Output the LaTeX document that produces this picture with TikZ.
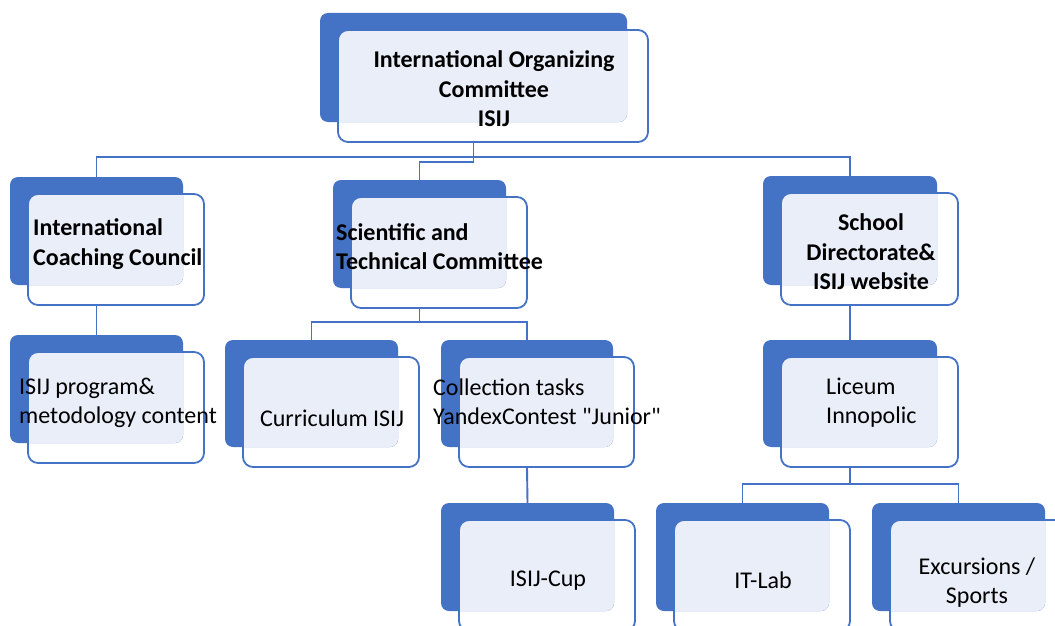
\documentclass[tikz,border=0pt]{standalone}
\usepackage{fontspec}
\setmainfont{Carlito}[Ligatures=TeXOff]
\definecolor{bl}{HTML}{4472C4}
\definecolor{lt}{HTML}{E9EEF8}
\tikzset{
  conn/.style={draw=bl, line width=1.9pt},
  backbox/.style={fill=bl, draw=none, inner sep=0pt, outer sep=0pt, rounded corners=8pt},
  frontbox/.style={inner sep=0pt, outer sep=0pt},
  frontline/.style={draw=bl, line width=1.8pt, rounded corners=10pt},
  lbl/.style={inner sep=0pt, text=black, font=\fontsize{24}{29}\selectfont},
  blbl/.style={inner sep=0pt, text=black, font=\fontsize{24}{29.5}\selectfont\bfseries},
}
\newcommand\orgbox[5]{%
  \node[backbox, minimum width={(#4-#2)*1pt}, minimum height={(#5-#3)*1pt}] (#1B) at ({(#2+#4)/2},{(#3+#5)/2}) {};
  \node[frontbox, minimum width={(#4-#2+3)*1pt}, minimum height={(#5-#3+3)*1pt}] (#1) at ({(#2+#4)/2+19.5},{(#3+#5)/2+18.5}) {};
  \begin{scope}
    \clip[rounded corners=8pt] (#1B.south west) rectangle (#1B.north east);
    \fill[lt, rounded corners=10pt] (#1.south west) rectangle (#1.north east);
  \end{scope}
  \draw[frontline] (#1.south west) rectangle (#1.north east);
}
\begin{document}
\begin{tikzpicture}[x=1pt, y=-1pt]
\clip (0,0) rectangle (1055,626);
\fill[white] (0,0) rectangle (1055,626);

\orgbox{top}{320}{13}{627}{122}
\orgbox{icc}{10}{177}{183}{285}
\orgbox{sci}{333}{180}{506}{288}
\orgbox{sch}{763}{176}{937}{285}
\orgbox{prog}{10}{335}{183}{443}
\orgbox{cur}{225}{340}{398}{447}
\orgbox{col}{441}{340}{613}{447}
\orgbox{lic}{763}{340}{937}{447}
\orgbox{cup}{441}{503}{614}{611}
\orgbox{itl}{656}{503}{829}{611}
\orgbox{exc}{872}{503}{1045}{611}

\coordinate (r1) at (0,157);
\coordinate (j1) at (0,162);
\coordinate (r2) at (0,322);
\coordinate (r3) at (0,484);

\draw[conn] (iccB.north) |- (r1 -| schB.north) -- (schB.north);
\draw[conn] (topB.south |- top.south) |- (j1 -| sciB.north) -- (sciB.north);
\draw[conn] (iccB.south |- icc.south) -- (progB.north);
\draw[conn] (sciB.south |- sci.south) -- (sciB.south |- r2);
\draw[conn] (curB.north) |- (r2 -| colB.north) -- (colB.north);
\draw[conn] (schB.south |- sch.south) -- (licB.north);
\draw[conn] (colB.south |- col.south) -- (cupB.north);
\draw[conn] (licB.south |- lic.south) -- (licB.south |- r3);
\draw[conn] (itlB.north) |- (r3 -| excB.north) -- (excB.north);

\node[blbl, align=center] (ttop) at (494,89) {International Organizing\\Committee\\ISIJ};
\node[blbl, align=left, anchor=west] (ticc) at (33,244) {International\\Coaching Council};
\node[blbl, align=left, anchor=west] (tsci) at (336,246.5) {Scientific and\\Technical Committee};
\node[blbl, align=center] (tsch) at (871,252) {School\\Directorate\&\\ISIJ website};
\node[lbl, align=left, anchor=west] (tprog) at (19,403) {ISIJ program\&\\metodology content};
\node[lbl] (tcur) at (332,418) {Curriculum ISIJ};
\node[lbl, align=left, anchor=west] (tcol) at (433,402) {Collection tasks\\YandexContest "Junior"};
\node[lbl, align=left, anchor=west] (tlic) at (826,402.5) {Liceum\\Innopolic};
\node[lbl] (tcup) at (548,580.5) {ISIJ-Cup};
\node[lbl] (titl) at (763,580) {IT-Lab};
\node[lbl, align=center] (texc) at (977,582.5) {Excursions /\\Sports};
\end{tikzpicture}
\end{document}
